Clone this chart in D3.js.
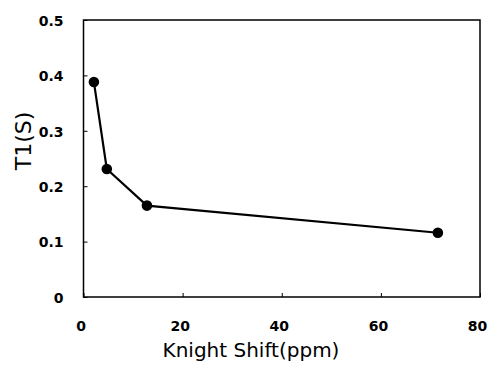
<!DOCTYPE html>
<meta charset="utf-8">
<style>
    body { margin: 0; background: #fff; }
    .tick text { font-family: "DejaVu Sans", sans-serif; font-weight: bold; font-size: 14px; fill: #000; }
    .axis-title { font-family: "DejaVu Sans", sans-serif; font-size: 20px; fill: #000; }
</style>
<body>
<div id="chart"></div>
<script src="https://d3js.org/d3.v7.min.js"></script>
<script>
    // data
    var shift = [2.1, 4.7, 12.8, 71.5];
    var t1 = [0.388, 0.231, 0.165, 0.116];
    var xTicks = [0, 20, 40, 60, 80];
    var yTicks = [0, 0.1, 0.2, 0.3, 0.4, 0.5];

    var W = 487, H = 369;
    var plotL = 83.5, plotR = 480, plotT = 20, plotB = 297;

    var x = d3.scaleLinear().domain([0, 80]).range([plotL, plotR]);
    var y = d3.scaleLinear().domain([0, 0.5]).range([plotB, plotT]);

    var svg = d3.select("#chart").append("svg")
        .attr("width", W)
        .attr("height", H);

    // frame
    svg.append("rect")
        .attr("x", plotL).attr("y", plotT)
        .attr("width", plotR - plotL).attr("height", plotB - plotT)
        .attr("fill", "none")
        .attr("stroke", "#000")
        .attr("stroke-width", 1.5);

    var xAxis = svg.append("g")
        .attr("transform", "translate(0," + plotB + ")")
        .call(d3.axisBottom(x).tickValues(xTicks).tickSizeInner(-4).tickSizeOuter(0).tickPadding(0)
            .tickFormat(d3.format("d")));
    xAxis.select(".domain").remove();
    xAxis.selectAll("text").attr("dy", null).attr("y", 34).attr("dx", -3);
    xAxis.selectAll("line").attr("stroke-width", 1);

    var yAxis = svg.append("g")
        .attr("transform", "translate(" + plotL + ",0)")
        .call(d3.axisLeft(y).tickValues(yTicks).tickSizeInner(-4).tickSizeOuter(0).tickPadding(20)
            .tickFormat(function (d) { return d === 0 ? "0" : d3.format(".1f")(d); }));
    yAxis.select(".domain").remove();
    yAxis.selectAll("text").attr("dy", "0.38em");
    yAxis.selectAll("line").attr("stroke-width", 1);

    var pts = shift.map(function (s, i) { return [s, t1[i]]; });

    var line = d3.line()
        .x(function (d) { return x(d[0]); })
        .y(function (d) { return y(d[1]); });

    svg.append("path")
        .datum(pts)
        .attr("d", line)
        .attr("fill", "none")
        .attr("stroke", "#000")
        .attr("stroke-width", 2.2);

    svg.append("g").selectAll("circle")
        .data(pts)
        .enter()
        .append("circle")
        .attr("cx", function (d) { return x(d[0]); })
        .attr("cy", function (d) { return y(d[1]); })
        .attr("r", 5.3)
        .attr("fill", "#000");

    svg.append("text")
        .attr("class", "axis-title")
        .attr("x", 251)
        .attr("y", 357)
        .attr("text-anchor", "middle")
        .text("Knight Shift(ppm)");

    svg.append("text")
        .attr("class", "axis-title")
        .attr("transform", "translate(31,141) rotate(-90)")
        .attr("text-anchor", "middle")
        .style("font-size", "22px")
        .text("T1(S)");
</script>
</body>
